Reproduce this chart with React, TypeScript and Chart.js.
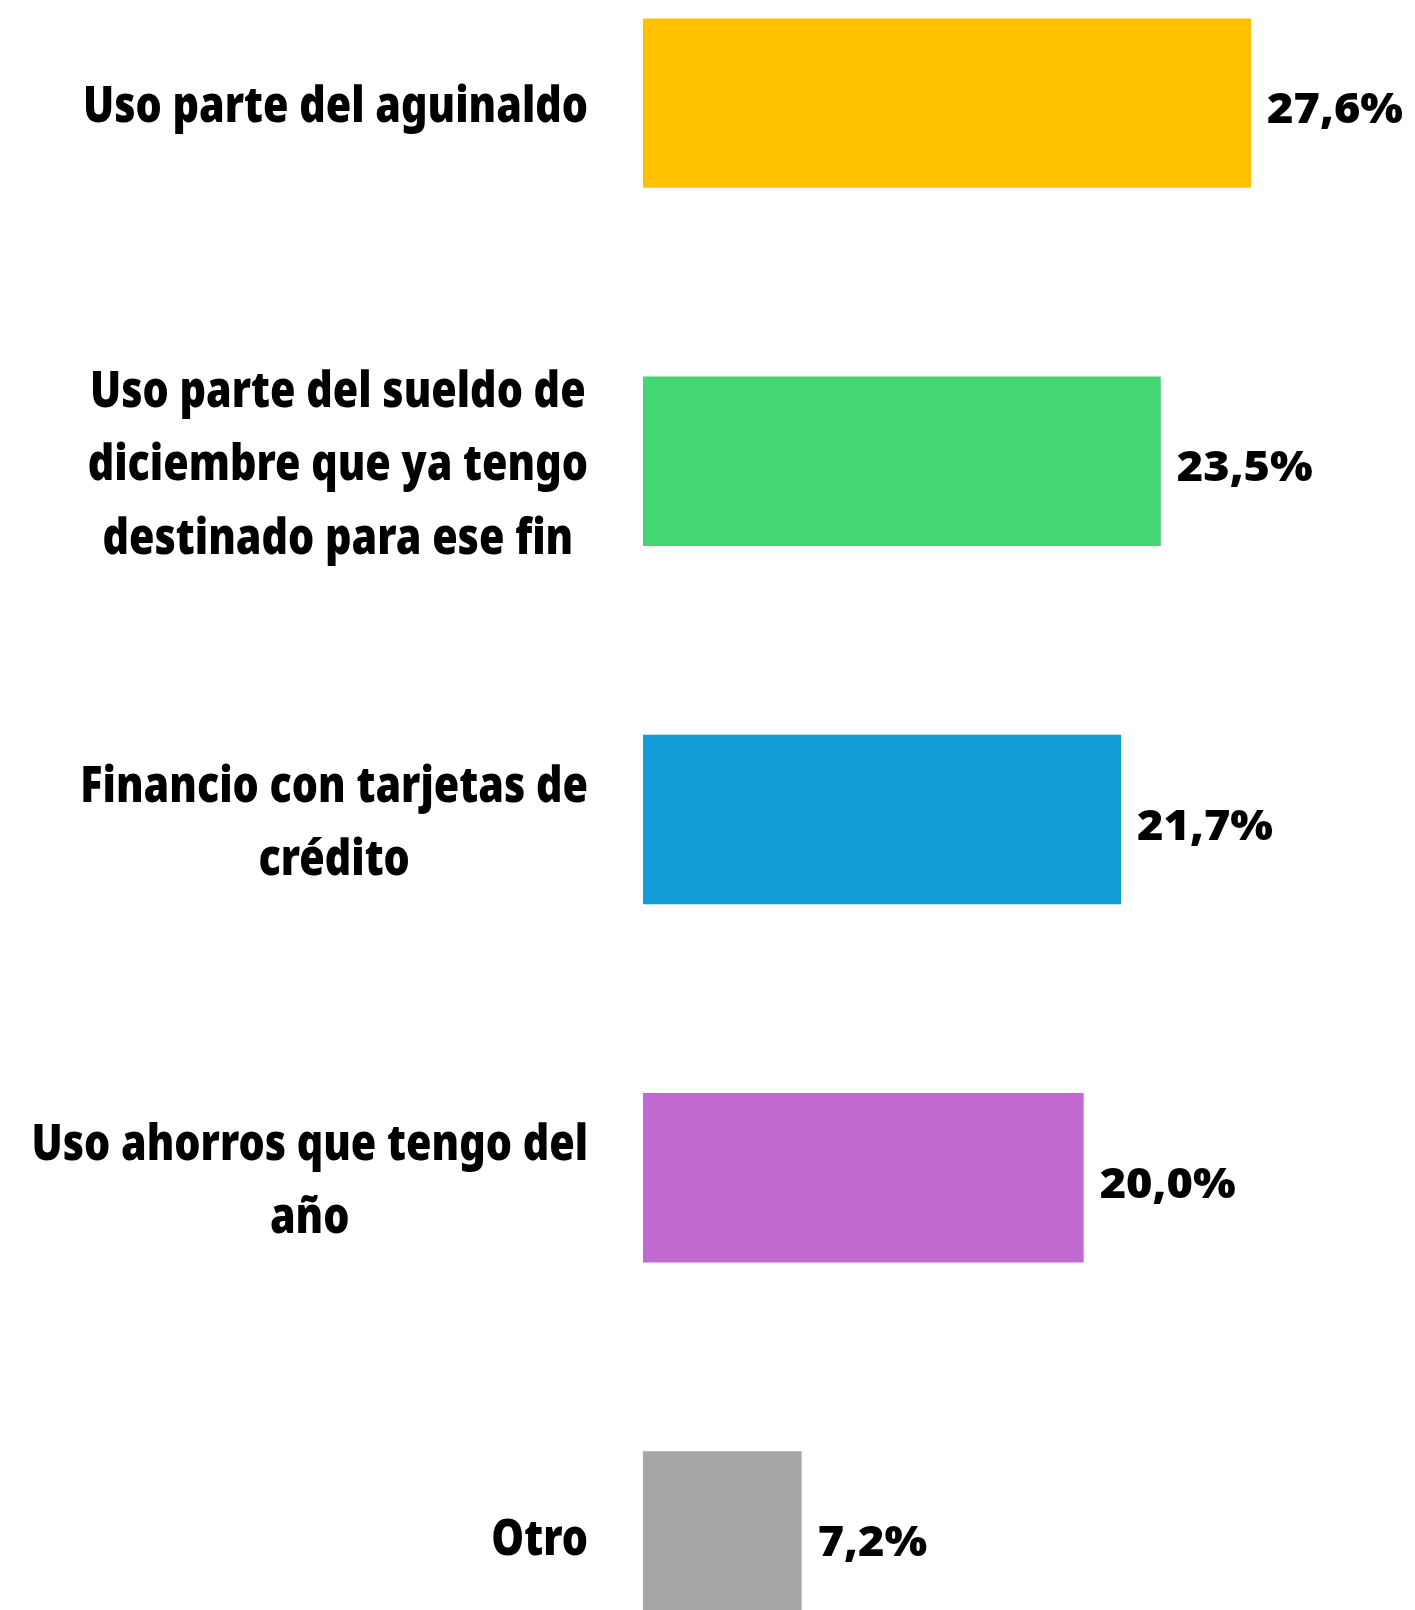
import React, { useEffect, useRef } from "react";
import { Chart, registerables } from "chart.js";

Chart.register(...registerables);

const categories: (string | string[])[] = [
  "Uso parte del aguinaldo",
  ["Uso parte del sueldo de", "diciembre que ya tengo", "destinado para ese fin"],
  ["Financio con tarjetas de", "crédito"],
  ["Uso ahorros que tengo del", "año"],
  "Otro",
];
const values = [27.6, 23.5, 21.7, 20.0, 7.2];
const colors = ["#FFC100", "#43D675", "#119CD6", "#C069CF", "#A6A6A6"];

const LABEL_FONT = '900 49px "Noto Sans", "Open Sans", sans-serif';
const VALUE_FONT = '900 42px "Noto Sans", "Open Sans", sans-serif';
const LABEL_REF_TEXT = "Uso parte del aguinaldo";
const LABEL_REF_WIDTH = 505;
const VALUE_REF_TEXT = "27,6%";
const VALUE_REF_WIDTH = 136;

const labelPlugin = {
  id: "customLabels",
  afterDraw(chart: any) {
    const ctx = chart.ctx as CanvasRenderingContext2D;
    const yScale = chart.scales.y;
    const left = chart.chartArea.left;
    ctx.save();
    ctx.fillStyle = "#000";
    ctx.textBaseline = "alphabetic";
    // category labels: block right-aligned, lines centered
    ctx.font = LABEL_FONT;
    ctx.textAlign = "center";
    const kl = LABEL_REF_WIDTH / ctx.measureText(LABEL_REF_TEXT).width;
    categories.forEach((cat, i) => {
      const lines = Array.isArray(cat) ? cat : [cat];
      const widest = Math.max(...lines.map((l) => ctx.measureText(l).width)) * kl;
      const cx = left - 55 - widest / 2;
      const cy = yScale.getPixelForTick(i) + 19;
      const lh = 73.5;
      lines.forEach((l, j) => {
        ctx.save();
        ctx.translate(cx, cy + (j - (lines.length - 1) / 2) * lh);
        ctx.scale(kl, 1);
        ctx.fillText(l, 0, 0);
        ctx.restore();
      });
    });
    // value labels
    ctx.font = VALUE_FONT;
    ctx.textAlign = "left";
    const kv = VALUE_REF_WIDTH / ctx.measureText(VALUE_REF_TEXT).width;
    const meta = chart.getDatasetMeta(0);
    meta.data.forEach((bar: any, i: number) => {
      const txt = values[i].toFixed(1).replace(".", ",") + "%";
      ctx.save();
      ctx.translate(bar.x + 16, bar.y + 20);
      ctx.scale(kv, 1);
      ctx.fillText(txt, 0, 0);
      ctx.restore();
    });
    ctx.restore();
  },
};

export default function App() {
  const ref = useRef<HTMLCanvasElement | null>(null);
  useEffect(() => {
    if (!ref.current) return;
    const chart = new Chart(ref.current, {
      type: "bar",
      data: {
        labels: categories as any,
        datasets: [
          {
            data: values,
            backgroundColor: colors,
            borderWidth: 0,
            categoryPercentage: 1,
            barPercentage: 0.473,
          },
        ],
      },
      options: {
        indexAxis: "y",
        responsive: false,
        animation: false,
        layout: { padding: { left: 0, right: 111, top: 0, bottom: 0 } },
        plugins: {
          legend: { display: false },
          tooltip: { enabled: false },
        },
        scales: {
          x: { type: "linear", min: 0, max: 30, display: false },
          y: {
            type: "category",
            grid: { display: false, drawTicks: false },
            border: { display: false },
            ticks: { display: false },
            afterFit(scale: any) {
              scale.width = 643;
            },
          },
        },
      },
      plugins: [labelPlugin],
    });
    return () => chart.destroy();
  }, []);
  return (
    <div
      style={{
        position: "fixed",
        left: 0,
        top: 0,
        width: 1415,
        height: 1610,
        overflow: "hidden",
        background: "#fff",
      }}
    >
      <canvas
        ref={ref}
        width={1415}
        height={1791}
        style={{ position: "absolute", left: 0, top: -76, width: 1415, height: 1791 }}
      />
    </div>
  );
}
